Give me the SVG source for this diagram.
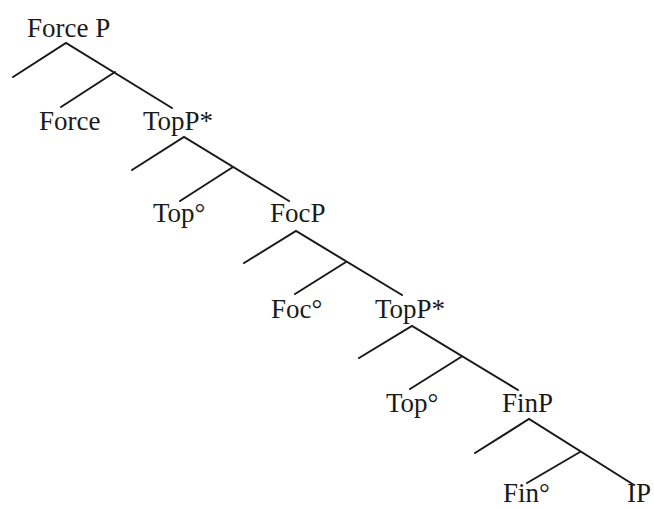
<svg xmlns="http://www.w3.org/2000/svg" width="654" height="509" viewBox="0 0 654 509">
<style>
text{font-family:"Liberation Serif","Times New Roman",serif;font-size:27px;fill:#1a1a1a}
.e{stroke:#1a1a1a;stroke-width:2;fill:none;stroke-linecap:round}
</style>
<rect width="654" height="509" fill="#fff"/>
<g id="connectors">
<path class="e" d="M13,77 L66,43 L172,108 M115,72 L61,107"/>
<path class="e" d="M132,170 L184,137 L289,201 M233,167 L180,201"/>
<path class="e" d="M244,263 L296,231 L402,295 M346,262 L295,294"/>
<path class="e" d="M359,358 L412,326 L518,390 M461,357 L410,389"/>
<path class="e" d="M475,453 L529,419 L634,485 M580,452 L527,483"/>
</g>
<g id="forceP"><text x="27" y="37">Force P</text></g>
<g id="force"><text x="39" y="130">Force</text></g>
<g id="topP1"><text x="143" y="130">TopP*</text></g>
<g id="top1"><text x="153" y="222">Top°</text></g>
<g id="focP"><text x="270" y="222">FocP</text></g>
<g id="foc"><text x="271" y="318">Foc°</text></g>
<g id="topP2"><text x="375" y="318">TopP*</text></g>
<g id="top2"><text x="386" y="412">Top°</text></g>
<g id="finP"><text x="502" y="412">FinP</text></g>
<g id="fin"><text x="503" y="502">Fin°</text></g>
<g id="ip"><text x="627" y="502">IP</text></g>
</svg>
